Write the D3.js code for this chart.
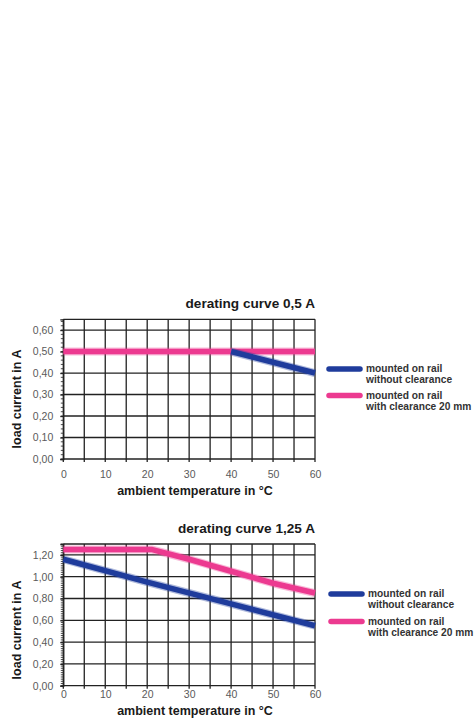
<!DOCTYPE html>
<html>
<head>
<meta charset="utf-8">
<script src="https://cdn.jsdelivr.net/npm/d3@7"></script>
<style>
  html, body { margin: 0; padding: 0; background: #fff; }
  svg { display: block; font-family: "Liberation Sans", Arial, Helvetica, sans-serif; }
</style>
</head>
<body>
<svg id="chart" width="475" height="722"></svg>
<script>
// Ambient temperature axis (°C)
const tempTicks = [0, 10, 20, 30, 40, 50, 60];
const tempGrid = [0, 5, 10, 15, 20, 25, 30, 35, 40, 45, 50, 55, 60];

// Derating curve 0,5 A
const ticks05 = [0, 0.1, 0.2, 0.3, 0.4, 0.5, 0.6];
const rail05Temp = [40, 60];
const rail05Load = [0.50, 0.40];
const clear05Temp = [0, 60];
const clear05Load = [0.50, 0.50];

// Derating curve 1,25 A
const ticks125 = [0, 0.2, 0.4, 0.6, 0.8, 1.0, 1.2];
const rail125Temp = [0, 20, 40, 60];
const rail125Load = [1.16, 0.95, 0.75, 0.55];
const clear125Temp = [0, 21, 30, 40, 50, 60];
const clear125Load = [1.25, 1.25, 1.16, 1.05, 0.94, 0.85];

const legendLabels = [
  ["mounted on rail", "without clearance"],
  ["mounted on rail", "with clearance 20 mm"]
];
const BLUE = "#1f3c9c";
const PINK = "#ec3a90";
const GRID = "#222";

const svg = d3.select("#chart");
const fmt = v => d3.format(".2f")(v).replace(".", ",");

function drawPanel(p) {
  const g = svg.append("g");
  const x = d3.scaleLinear().domain([0, 60]).range([p.left, p.right]);
  const y = d3.scaleLinear().domain([0, p.yMax]).range([p.bottom, p.top]);

  // title
  g.append("text")
    .attr("x", p.right).attr("y", p.titleY)
    .attr("text-anchor", "end")
    .attr("font-size", 13.6).attr("font-weight", "bold").attr("fill", "#1a1a1a")
    .text(p.title);

  // grid
  g.append("g").selectAll("line").data(tempGrid).join("line")
    .attr("x1", d => x(d)).attr("x2", d => x(d))
    .attr("y1", y(p.yMax)).attr("y2", y(0) + 3)
    .attr("stroke", GRID).attr("stroke-width", 1.3);
  g.append("g").selectAll("line").data(p.ticks.concat([p.yMax])).join("line")
    .attr("x1", x(0)).attr("x2", x(60))
    .attr("y1", d => y(d)).attr("y2", d => y(d))
    .attr("stroke", GRID).attr("stroke-width", 1.3);

  // minor ticks on the load axis
  const minor = d3.range(0, p.yMax + 1e-9, 0.02);
  g.append("g").selectAll("line").data(minor).join("line")
    .attr("x1", x(0) - 2.5).attr("x2", x(0))
    .attr("y1", d => y(d)).attr("y2", d => y(d))
    .attr("stroke", GRID).attr("stroke-width", 0.8);

  // load axis labels
  const ya = g.append("g")
    .attr("transform", `translate(${x(0)},0)`)
    .call(d3.axisLeft(y).tickValues(p.ticks).tickFormat(fmt).tickSize(3).tickPadding(7));
  ya.select(".domain").attr("stroke", GRID).attr("stroke-width", 1.3);
  ya.selectAll(".tick line").attr("stroke", GRID).attr("stroke-width", 1.3);
  ya.selectAll("text").attr("font-size", 10.5).attr("fill", "#5a5a5a")
    .attr("font-family", "Liberation Sans, Arial, sans-serif");

  // temperature axis labels
  const xa = g.append("g")
    .attr("transform", `translate(0,${y(0)})`)
    .call(d3.axisBottom(x).tickValues(tempTicks).tickSize(0).tickPadding(p.xPad));
  xa.select(".domain").remove();
  xa.selectAll("text").attr("font-size", 10.5).attr("fill", "#5a5a5a")
    .attr("font-family", "Liberation Sans, Arial, sans-serif");

  // axis titles
  g.append("text")
    .attr("x", 195).attr("y", p.xTitleY)
    .attr("text-anchor", "middle")
    .attr("font-size", 12.5).attr("font-weight", "bold").attr("fill", "#1a1a1a")
    .text("ambient temperature in °C");
  g.append("text")
    .attr("transform", `translate(21,${p.yTitleMid}) rotate(-90)`)
    .attr("text-anchor", "middle")
    .attr("font-size", 12.5).attr("font-weight", "bold").attr("fill", "#1a1a1a")
    .text("load current in A");

  // curves
  const line = d3.line().x(d => x(d[0])).y(d => y(d[1]));
  const series = [
    { t: p.clearTemp, v: p.clearLoad, c: PINK },
    { t: p.railTemp, v: p.railLoad, c: BLUE }
  ];
  series.forEach(s => {
    const pts = s.t.map((t, i) => [t, s.v[i]]);
    g.append("path").datum(pts)
      .attr("d", line)
      .attr("fill", "none").attr("stroke", s.c).attr("stroke-opacity", 0.35)
      .attr("stroke-width", 8).attr("stroke-linejoin", "round");
    g.append("path").datum(pts)
      .attr("d", line)
      .attr("fill", "none").attr("stroke", s.c)
      .attr("stroke-width", 5.5).attr("stroke-linejoin", "round");
  });

  // legend
  const leg = [BLUE, PINK];
  leg.forEach((c, i) => {
    const ly = p.legendY[i];
    g.append("line")
      .attr("x1", p.legendX).attr("x2", p.legendX + 31)
      .attr("y1", ly).attr("y2", ly)
      .attr("stroke", c).attr("stroke-width", 5.5).attr("stroke-linecap", "round");
    legendLabels[i].forEach((txt, j) => {
      g.append("text")
        .attr("x", p.legendX + 37).attr("y", ly + 3 + j * 11)
        .attr("font-size", 10.2).attr("font-weight", "bold").attr("fill", "#333")
        .text(txt);
    });
  });
}

drawPanel({
  title: "derating curve 0,5 A", titleY: 307.5,
  left: 63.3, right: 315, top: 319.3, bottom: 459, yMax: 0.65,
  ticks: ticks05, xPad: 11.5,
  railTemp: rail05Temp, railLoad: rail05Load,
  clearTemp: clear05Temp, clearLoad: clear05Load,
  xTitleY: 494.5, yTitleMid: 399,
  legendX: 329, legendY: [369, 395.5]
});

drawPanel({
  title: "derating curve 1,25 A", titleY: 532.5,
  left: 63.3, right: 315, top: 544, bottom: 685.7, yMax: 1.30,
  ticks: ticks125, xPad: 4.8,
  railTemp: rail125Temp, railLoad: rail125Load,
  clearTemp: clear125Temp, clearLoad: clear125Load,
  xTitleY: 715, yTitleMid: 630,
  legendX: 331, legendY: [594, 621.5]
});
</script>
</body>
</html>
